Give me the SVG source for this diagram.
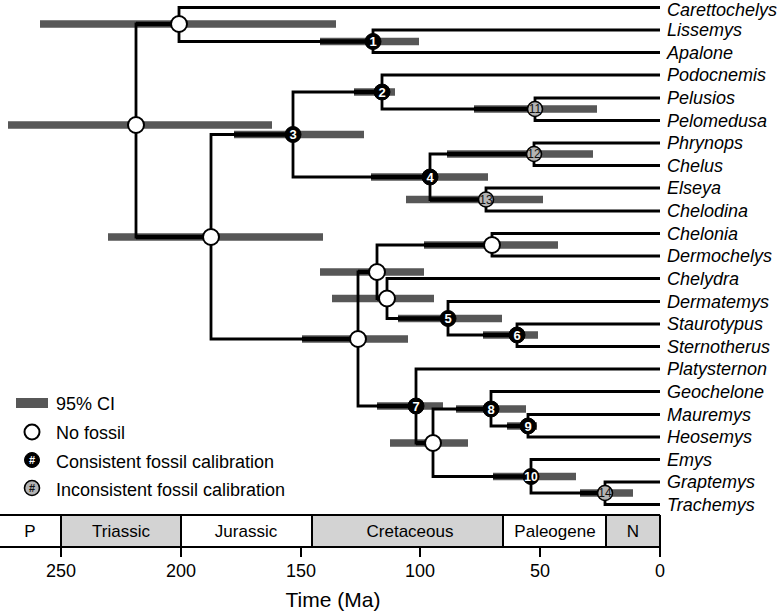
<svg xmlns="http://www.w3.org/2000/svg" width="781" height="614" viewBox="0 0 781 614">
<style>
text{font-family:"Liberation Sans",Arial,sans-serif;fill:#000}
.tx{font-size:18px;font-style:italic}
.lg{font-size:18px}
.era{font-size:17px;text-anchor:middle}
.tk{font-size:18px;text-anchor:middle}
.bar{stroke:#575757;stroke-width:7.5;fill:none}
.br{stroke:#000;stroke-width:2.8;fill:none;stroke-linejoin:miter;stroke-linecap:butt}
.thk{stroke:#000;stroke-width:4.5;fill:none}
.wn{fill:#fff;stroke:#000;stroke-width:2}
.bn{fill:#000;stroke:#000;stroke-width:1}
.gn{fill:#b3b3b3;stroke:#000;stroke-width:1.6}
.bt{font-size:13px;font-weight:bold;fill:#fff;text-anchor:middle}
.gt{font-size:12px;fill:#111;text-anchor:middle}
.gray{fill:#d3d3d3}
.ax{stroke:#000;stroke-width:2;fill:none}
</style>

<g id="bars">
<path class="bar" d="M40,24H336M8,125H272M320,41.5H419M354,92H395M234,134.5H364M474,109H597M371,177H488M447,154H593M406,199.5H543M108,237H323M424,245H558M320,272H424M332,298.5H434M398,318.5H502M483,335H538M302,339H408M377,406H443M390,443H468M456,409H526M507,426H537M493,476.5H576M580,493H633"/>
</g>

<g id="connectors">
<path class="br" d="M179,24H136V237H211"/>
<path class="br" d="M660,7.5H179V41.5H373"/>
<path class="br" d="M660,30H373V52.5H660"/>
<path class="br" d="M382,92H293V177H430"/>
<path class="br" d="M293,134.5H211V339H358"/>
<path class="br" d="M660,75H382V109H535"/>
<path class="br" d="M660,98H535V120.5H660"/>
<path class="br" d="M534,154H430V199.5H486"/>
<path class="br" d="M660,143H534V165.5H660"/>
<path class="br" d="M660,188H486V211H660"/>
<path class="br" d="M377,272H358V406H416"/>
<path class="br" d="M492,245H377V298.5H387"/>
<path class="br" d="M660,233.5H492V256H660"/>
<path class="br" d="M660,278.5H387V318.5H448"/>
<path class="br" d="M660,301.5H448V335H517"/>
<path class="br" d="M660,324H517V346.5H660"/>
<path class="br" d="M660,369H416V443H433"/>
<path class="br" d="M491,409H433V476.5H531"/>
<path class="br" d="M660,391.5H491V426H528"/>
<path class="br" d="M660,414.5H528V437H660"/>
<path class="br" d="M660,459.5H531V493H605"/>
<path class="br" d="M660,482H605V504.5H660"/>
<path class="thk" d="M136,24H179M320,41.5H373M354,92H382M234,134.5H293M474,109H535M371,177H430M447,154H534M430,199.5H486M136,237H211M424,245H492M358,272H377M377,298.5H387M398,318.5H448M483,335H517M302,339H358M377,406H416M416,443H433M456,409H491M507,426H528M493,476.5H531M580,493H605"/>
</g>

<g id="node-root"><circle class="wn" cx="136" cy="125" r="8"/></g>
<g id="node-trionychia"><circle class="wn" cx="179" cy="24" r="8"/></g>
<g id="node-C"><circle class="wn" cx="211" cy="237" r="8"/></g>
<g id="node-F"><circle class="wn" cx="358" cy="339" r="8"/></g>
<g id="node-E"><circle class="wn" cx="377" cy="272" r="8"/></g>
<g id="node-D"><circle class="wn" cx="387" cy="298.5" r="8"/></g>
<g id="node-chelonioidea"><circle class="wn" cx="492" cy="245" r="8"/></g>
<g id="node-W"><circle class="wn" cx="433" cy="443" r="8"/></g>

<g id="node-1"><circle class="bn" cx="373" cy="41.5" r="8"/><text class="bt" x="373" y="46.3">1</text></g>
<g id="node-2"><circle class="bn" cx="382" cy="92" r="8"/><text class="bt" x="382" y="96.8">2</text></g>
<g id="node-3"><circle class="bn" cx="293" cy="134.5" r="8"/><text class="bt" x="293" y="139.3">3</text></g>
<g id="node-4"><circle class="bn" cx="430" cy="177" r="8"/><text class="bt" x="430" y="181.8">4</text></g>
<g id="node-5"><circle class="bn" cx="448" cy="318.5" r="8"/><text class="bt" x="448" y="323.3">5</text></g>
<g id="node-6"><circle class="bn" cx="517" cy="335" r="8"/><text class="bt" x="517" y="339.8">6</text></g>
<g id="node-7"><circle class="bn" cx="416" cy="406" r="8"/><text class="bt" x="416" y="410.8">7</text></g>
<g id="node-8"><circle class="bn" cx="491" cy="409" r="8"/><text class="bt" x="491" y="413.8">8</text></g>
<g id="node-9"><circle class="bn" cx="528" cy="426" r="8"/><text class="bt" x="528" y="430.8">9</text></g>
<g id="node-10"><circle class="bn" cx="531" cy="476.5" r="8"/><text class="bt" x="531" y="481.3" style="font-size:12px">10</text></g>
<g id="node-11"><circle class="gn" cx="535" cy="109" r="7.5"/><text class="gt" x="535" y="113.3">11</text></g>
<g id="node-12"><circle class="gn" cx="534" cy="154" r="7.5"/><text class="gt" x="534" y="158.3">12</text></g>
<g id="node-13"><circle class="gn" cx="486" cy="199.5" r="7.5"/><text class="gt" x="486" y="203.8">13</text></g>
<g id="node-14"><circle class="gn" cx="605" cy="493" r="7.5"/><text class="gt" x="605" y="497.3">14</text></g>

<g id="taxa">
<g id="t-carettochelys"><text class="tx" x="667" y="15.5">Carettochelys</text></g>
<g id="t-lissemys"><text class="tx" x="667" y="36.3">Lissemys</text></g>
<g id="t-apalone"><text class="tx" x="667" y="58.8">Apalone</text></g>
<g id="t-podocnemis"><text class="tx" x="667" y="81.3">Podocnemis</text></g>
<g id="t-pelusios"><text class="tx" x="667" y="104.3">Pelusios</text></g>
<g id="t-pelomedusa"><text class="tx" x="667" y="126.8">Pelomedusa</text></g>
<g id="t-phrynops"><text class="tx" x="667" y="149.3">Phrynops</text></g>
<g id="t-chelus"><text class="tx" x="667" y="171.8">Chelus</text></g>
<g id="t-elseya"><text class="tx" x="667" y="194.3">Elseya</text></g>
<g id="t-chelodina"><text class="tx" x="667" y="217.3">Chelodina</text></g>
<g id="t-chelonia"><text class="tx" x="667" y="239.8">Chelonia</text></g>
<g id="t-dermochelys"><text class="tx" x="667" y="262.3">Dermochelys</text></g>
<g id="t-chelydra"><text class="tx" x="667" y="284.8">Chelydra</text></g>
<g id="t-dermatemys"><text class="tx" x="667" y="307.8">Dermatemys</text></g>
<g id="t-staurotypus"><text class="tx" x="667" y="330.3">Staurotypus</text></g>
<g id="t-sternotherus"><text class="tx" x="667" y="352.8">Sternotherus</text></g>
<g id="t-platysternon"><text class="tx" x="667" y="375.3">Platysternon</text></g>
<g id="t-geochelone"><text class="tx" x="667" y="397.8">Geochelone</text></g>
<g id="t-mauremys"><text class="tx" x="667" y="420.8">Mauremys</text></g>
<g id="t-heosemys"><text class="tx" x="667" y="443.3">Heosemys</text></g>
<g id="t-emys"><text class="tx" x="667" y="465.8">Emys</text></g>
<g id="t-graptemys"><text class="tx" x="667" y="488.3">Graptemys</text></g>
<g id="t-trachemys"><text class="tx" x="667" y="510.8">Trachemys</text></g>
</g>

<g id="legend">
<rect x="16" y="398" width="32" height="10" fill="#575757"/>
<text class="lg" x="56" y="409.5">95% CI</text>
<circle class="wn" cx="32" cy="432" r="7.5"/>
<text class="lg" x="56" y="438.5">No fossil</text>
<circle class="bn" cx="32" cy="460" r="7.5"/>
<text x="32" y="464" style="font-size:11px;font-weight:bold;fill:#fff;text-anchor:middle">#</text>
<text class="lg" x="56" y="467.5">Consistent fossil calibration</text>
<circle class="gn" cx="32" cy="488" r="7.5"/>
<text x="32" y="492" style="font-size:11px;font-weight:bold;fill:#111;text-anchor:middle">#</text>
<text class="lg" x="56" y="495.5">Inconsistent fossil calibration</text>
</g>

<g id="timescale">
<rect class="gray" x="61" y="515" width="120" height="32"/>
<rect class="gray" x="312" y="515" width="191" height="32"/>
<rect class="gray" x="606" y="515" width="54" height="32"/>
<path class="ax" d="M0,515H660M0,547H660M61,515V557M181,515V557M312,515V547M503,515V547M606,515V547M660,515V557M301,547V557M420,547V557M540,547V557"/>
<text class="era" x="30" y="537">P</text>
<text class="era" x="121" y="537">Triassic</text>
<text class="era" x="246" y="537">Jurassic</text>
<text class="era" x="410" y="537">Cretaceous</text>
<text class="era" x="555" y="537">Paleogene</text>
<text class="era" x="633" y="537">N</text>
<text class="tk" x="61" y="576.5">250</text>
<text class="tk" x="181" y="576.5">200</text>
<text class="tk" x="301" y="576.5">150</text>
<text class="tk" x="420" y="576.5">100</text>
<text class="tk" x="540" y="576.5">50</text>
<text class="tk" x="660" y="576.5">0</text>
<text x="333" y="607" style="font-size:21px;text-anchor:middle">Time (Ma)</text>
</g>
</svg>
